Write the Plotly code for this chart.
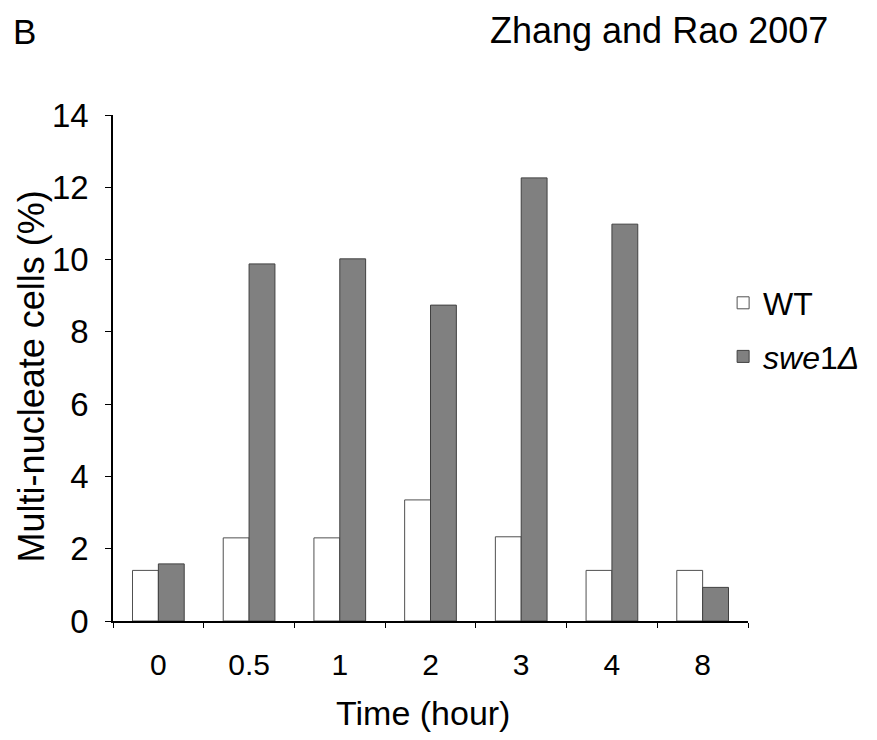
import plotly.graph_objects as go

categories = ["0", "0.5", "1", "2", "3", "4", "8"]
wt_values = [1.4, 2.3, 2.3, 3.35, 2.33, 1.4, 1.4]
swe1_values = [1.58, 9.88, 10.02, 8.74, 12.26, 10.98, 0.93]
y_ticks = [0, 2, 4, 6, 8, 10, 12, 14]

FONT = "Arial, Liberation Sans, sans-serif"

# The page body has an 8px margin, so the figure is drawn 8px in from the
# window corner; size it to fill the rest of the 877x740 window.
OFF = 8
W, H = 877 - OFF, 740 - OFF
# plot area in page pixels: x 113..751, y 115..621
L, R, T, B = 113 - OFF, 751 - OFF, 115 - OFF, 621 - OFF


def px(page_x):
    return (page_x - OFF - L) / (R - L)


def py(page_y):
    return (B - (page_y - OFF)) / (B - T)


fig = go.Figure()
fig.add_trace(go.Bar(
    x=categories, y=wt_values, name="WT",
    marker=dict(color="white", line=dict(color="#505050", width=1)),
    legendgroup="a",
))
fig.add_trace(go.Bar(
    x=categories, y=swe1_values, name="<i>swe</i>1<i>Δ</i>",
    marker=dict(color="#808080", line=dict(color="#404040", width=1)),
    legendgroup="b",
))

fig.update_layout(
    width=W, height=H,
    margin=dict(l=L, r=W - R, t=T, b=H - B),
    paper_bgcolor="white", plot_bgcolor="white",
    barmode="group", bargap=0.43, bargroupgap=0,
    font=dict(family=FONT, color="black"),
    showlegend=True,
    legend=dict(x=px(726), y=py(330), xanchor="left", yanchor="middle",
                font=dict(size=32, family=FONT), traceorder="grouped",
                tracegroupgap=9, bgcolor="rgba(0,0,0,0)"),
    xaxis=dict(
        type="category", showline=True, linecolor="black", linewidth=1.5,
        ticks="outside", tickson="boundaries", ticklen=5, tickcolor="black",
        tickfont=dict(size=30), showgrid=False, zeroline=False, automargin=False,
        ticklabelstandoff=16,
    ),
    yaxis=dict(
        range=[0, 14], tickvals=y_ticks, showline=True, linecolor="black",
        linewidth=1.5, ticks="outside", ticklen=6, tickcolor="black",
        tickfont=dict(size=33), showgrid=False, zeroline=False, automargin=False,
        ticklabelstandoff=10,
    ),
    annotations=[
        dict(text="Time (hour)", xref="paper", yref="paper",
             x=px(424), y=py(713), xanchor="center", yanchor="middle",
             showarrow=False, font=dict(size=34, family=FONT)),
        dict(text="Multi-nucleate cells (%)", xref="paper", yref="paper",
             x=px(31), y=py(376), xanchor="center", yanchor="middle", textangle=-90,
             showarrow=False, font=dict(size=36, family=FONT)),
        dict(text="Zhang and Rao 2007", xref="paper", yref="paper",
             x=px(662), y=py(OFF), xanchor="center", yanchor="top",
             showarrow=False, font=dict(size=36, family=FONT)),
        dict(text="B", xref="paper", yref="paper",
             x=px(11), y=py(31), xanchor="left", yanchor="middle",
             showarrow=False, font=dict(size=35, family=FONT)),
    ],
)

fig.write_html("out.html")
